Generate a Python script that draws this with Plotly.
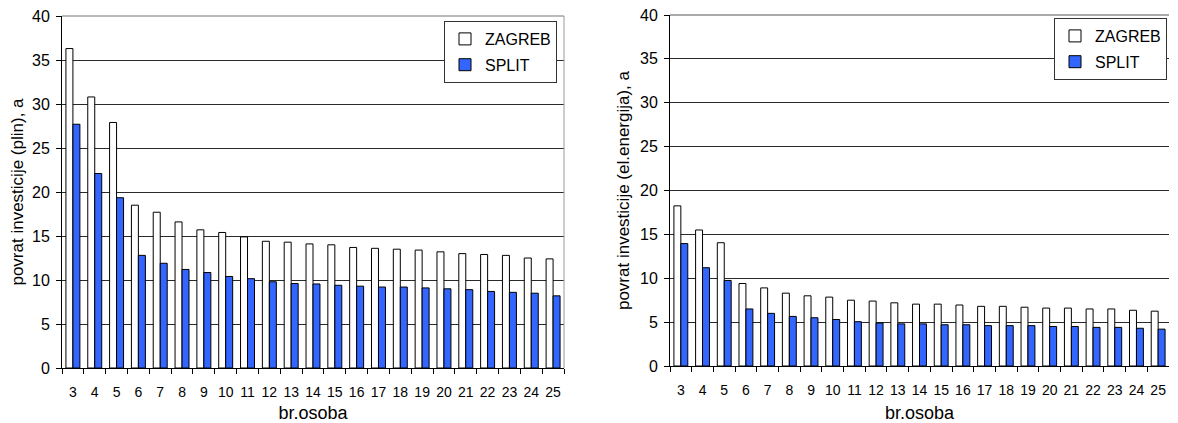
import plotly.graph_objects as go

categories = [str(i) for i in range(3, 26)]

zagreb_plin = [36.3, 30.8, 27.9, 18.5, 17.7, 16.6, 15.7, 15.4, 14.9, 14.4, 14.3, 14.1, 14.0,
               13.7, 13.6, 13.5, 13.4, 13.2, 13.0, 12.9, 12.8, 12.5, 12.4]
split_plin = [27.7, 22.1, 19.35, 12.8, 11.9, 11.2, 10.85, 10.4, 10.15, 9.8, 9.6, 9.55, 9.4,
              9.3, 9.2, 9.2, 9.1, 9.0, 8.9, 8.7, 8.6, 8.5, 8.2]

zagreb_el = [18.25, 15.5, 14.05, 9.4, 8.9, 8.3, 8.0, 7.85, 7.5, 7.4, 7.2, 7.05, 7.05,
             6.95, 6.8, 6.8, 6.7, 6.6, 6.6, 6.5, 6.5, 6.35, 6.25]
split_el = [13.95, 11.2, 9.75, 6.5, 6.0, 5.65, 5.5, 5.3, 5.05, 4.9, 4.8, 4.8, 4.7,
            4.7, 4.6, 4.6, 4.6, 4.5, 4.5, 4.4, 4.4, 4.3, 4.2]

series_names = ["ZAGREB", "SPLIT"]
y_titles = ["povrat investicije (plin), a", "povrat investicije (el.energija), a"]
x_title = "br.osoba"
y_ticks = [0, 5, 10, 15, 20, 25, 30, 35, 40]

FONT = "Liberation Sans, Arial, sans-serif"
BLUE = "#3366FF"
OFF = 8  # default page body margin
W, H = 1178 - 2 * OFF, 423 - OFF

fig = go.Figure()

def add_pair(zg, st, xa, ya, leg):
    fig.add_trace(go.Bar(x=categories, y=zg, name=series_names[0], xaxis=xa, yaxis=ya,
                         legend=leg, legendgroup=leg + "z",
                         marker=dict(color="white", line=dict(color="black", width=1))))
    fig.add_trace(go.Bar(x=categories, y=st, name=series_names[1], xaxis=xa, yaxis=ya,
                         legend=leg, legendgroup=leg + "s",
                         marker=dict(color=BLUE, line=dict(color="black", width=1))))

add_pair(zagreb_plin, split_plin, "x", "y", "legend")
add_pair(zagreb_el, split_el, "x2", "y2", "legend2")

def px_x(p):
    return (p - OFF) / W

def px_y(p):
    return 1 - (p - OFF) / H

xcommon = dict(type="category", showline=True, linecolor="black", linewidth=1,
               ticks="outside", tickson="boundaries", ticklen=5, tickcolor="black",
               tickangle=0, ticklabelstandoff=11, ticklabeloverflow="allow",
               showgrid=False, automargin=False,
               tickfont=dict(family=FONT, size=14, color="black"),
               title=dict(text=x_title, font=dict(family=FONT, size=18, color="black"), standoff=14))
ycommon = dict(range=[0, 40], tickvals=y_ticks, showline=True, linecolor="black", linewidth=1,
               ticks="outside", ticklen=5, tickcolor="black", ticklabelstandoff=3,
               ticklabeloverflow="allow",
               showgrid=True, gridcolor="#2a2a2a", gridwidth=1, zeroline=False, automargin=False,
               tickfont=dict(family=FONT, size=16, color="black"))

legcommon = dict(xanchor="right", yanchor="top", bgcolor="white", bordercolor="#333333",
                 borderwidth=1, font=dict(family=FONT, size=16, color="black"),
                 itemwidth=30, traceorder="grouped", tracegroupgap=2)

fig.update_layout(
    width=W, height=H, template="none",
    margin=dict(l=0, r=0, t=0, b=0),
    paper_bgcolor="white", plot_bgcolor="white",
    barmode="group", bargap=0.36, bargroupgap=0.0,
    font=dict(family=FONT, color="black"),
    xaxis=dict(domain=[px_x(62), px_x(564)], anchor="y", **xcommon),
    yaxis=dict(domain=[px_y(368), px_y(16)], anchor="x",
               title=dict(text=y_titles[0], font=dict(family=FONT, size=17, color="black"), standoff=6),
               **ycommon),
    xaxis2=dict(domain=[px_x(670), px_x(1169)], anchor="y2", **xcommon),
    yaxis2=dict(domain=[px_y(366), px_y(15)], anchor="x2",
                title=dict(text=y_titles[1], font=dict(family=FONT, size=17, color="black"), standoff=6),
                **ycommon),
    legend=dict(x=px_x(557), y=px_y(21), **legcommon),
    legend2=dict(x=px_x(1167), y=px_y(18), **legcommon),
    shapes=[
        dict(type="line", xref="x domain", yref="y domain", x0=1, x1=1, y0=0, y1=1,
             line=dict(color="#999999", width=1)),
        dict(type="line", xref="x domain", yref="y domain", x0=0, x1=1, y0=1, y1=1,
             line=dict(color="#777777", width=1)),
        dict(type="line", xref="x2 domain", yref="y2 domain", x0=0, x1=1, y0=1, y1=1,
             line=dict(color="#555555", width=1)),
    ],
)

fig.write_html("out.html")
